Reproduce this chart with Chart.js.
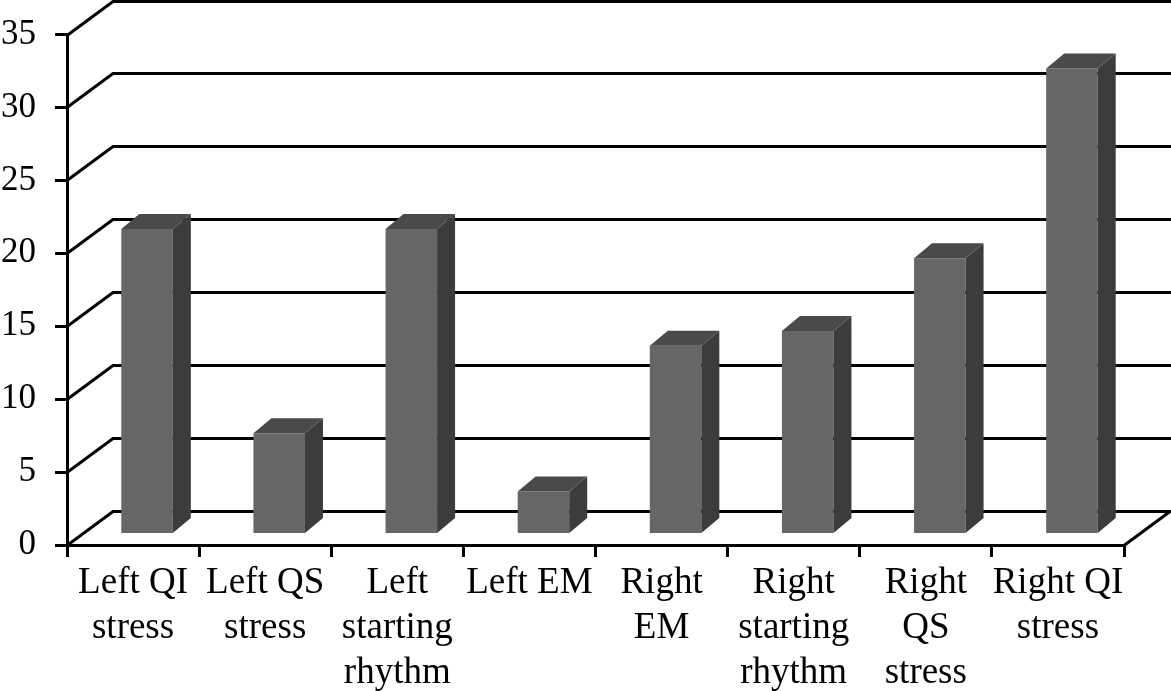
<!DOCTYPE html>
<html>
<head>
<meta charset="utf-8">
<title>Bar chart</title>
<script src="https://cdn.jsdelivr.net/npm/chart.js"></script>
<style>
  html, body { margin: 0; padding: 0; background: #fff; overflow: hidden; }
  canvas { display: block; }
</style>
</head>
<body>
<canvas id="chart" width="1171" height="691"></canvas>
<script>
var categories = [
  ["Left QI", "stress"],
  ["Left QS", "stress"],
  ["Left", "starting", "rhythm"],
  ["Left EM"],
  ["Right", "EM"],
  ["Right", "starting", "rhythm"],
  ["Right", "QS", "stress"],
  ["Right QI", "stress"]
];
var values = [21, 7, 21, 3, 13, 14, 19, 32];
var yTicks = [0, 5, 10, 15, 20, 25, 30, 35];

var WALL_DX = 46, WALL_DY = 34;    // back wall offset from the front axes
var BAR_DX = 14, BAR_DY = 9.7;     // bars stand a little way into the floor
var SIDE_DX = 18, SIDE_DY = 15;    // depth of each bar
var LINE = "#000";

function poly(ctx, pts, fill) {
  ctx.beginPath();
  ctx.moveTo(pts[0][0], pts[0][1]);
  for (var i = 1; i < pts.length; i++) ctx.lineTo(pts[i][0], pts[i][1]);
  ctx.closePath();
  ctx.fillStyle = fill;
  ctx.fill();
}

var pseudo3d = {
  id: "pseudo3d",
  beforeDatasetsDraw: function (chart) {
    var ctx = chart.ctx, y = chart.scales.y, x = chart.scales.x;
    var left = x.left, right = x.right;
    ctx.save();
    ctx.strokeStyle = LINE;
    ctx.lineWidth = 3;
    ctx.lineJoin = "miter";
    yTicks.forEach(function (t) {
      // snap to the pixel grid so the 3px lines stay crisp
      var py = Math.round(y.getPixelForValue(t)) + 0.5;
      ctx.beginPath();
      ctx.moveTo(left, py);
      ctx.lineTo(left + WALL_DX, py - WALL_DY);
      ctx.lineTo(right + WALL_DX + 1, py - WALL_DY);
      ctx.stroke();
    });
    // right edge of the floor
    var floor = Math.round(y.getPixelForValue(0)) + 0.5;
    ctx.beginPath();
    ctx.moveTo(right, floor);
    ctx.lineTo(right + WALL_DX, floor - WALL_DY);
    ctx.stroke();
    ctx.restore();
    ctx.save();
    ctx.translate(BAR_DX, -BAR_DY);
  },
  afterDatasetsDraw: function (chart) {
    var ctx = chart.ctx;
    chart.getDatasetMeta(0).data.forEach(function (bar) {
      var l = bar.x - bar.width / 2, r = bar.x + bar.width / 2;
      poly(ctx, [[r, bar.y], [r + SIDE_DX, bar.y - SIDE_DY], [r + SIDE_DX, bar.base - SIDE_DY], [r, bar.base]], "#3c3c3c");
      poly(ctx, [[l, bar.y], [l + SIDE_DX, bar.y - SIDE_DY], [r + SIDE_DX, bar.y - SIDE_DY], [r, bar.y]], "#4a4a4a");
    });
    ctx.restore();
  }
};

new Chart(document.getElementById("chart"), {
  type: "bar",
  plugins: [pseudo3d],
  data: {
    labels: categories,
    datasets: [{
      data: values,
      backgroundColor: "#666666",
      borderWidth: 0,
      base: 0.16,
      clip: false,
      barPercentage: 0.39,
      categoryPercentage: 1
    }]
  },
  options: {
    responsive: false,
    animation: false,
    layout: { padding: { top: 34.5, right: 47, left: 0, bottom: 0 } },
    plugins: { legend: { display: false }, tooltip: { enabled: false } },
    scales: {
      x: {
        afterFit: function (scale) {
          scale.height = 146;
          scale.paddingLeft = 0;
          scale.paddingRight = 0;
        },
        border: { color: LINE, width: 3 },
        grid: { drawOnChartArea: false, drawTicks: true, tickLength: 12, tickWidth: 3, tickColor: LINE, lineWidth: 3, color: LINE },
        ticks: {
          color: "#000",
          autoSkip: false,
          maxRotation: 0,
          minRotation: 0,
          padding: 4,
          font: { family: "'Liberation Serif'", size: 37, lineHeight: 1.216 }
        }
      },
      y: {
        min: 0,
        max: 35,
        afterFit: function (scale) {
          scale.width = 67;
          scale.paddingTop = 0;
          scale.paddingBottom = 0;
        },
        border: { color: LINE, width: 3 },
        grid: { drawOnChartArea: false, drawTicks: true, tickLength: 12, tickWidth: 3, tickColor: LINE, lineWidth: 3, color: LINE },
        ticks: {
          color: "#000",
          stepSize: 5,
          padding: 19,
          font: { family: "'Liberation Serif'", size: 35 }
        }
      }
    }
  }
});
</script>
</body>
</html>
